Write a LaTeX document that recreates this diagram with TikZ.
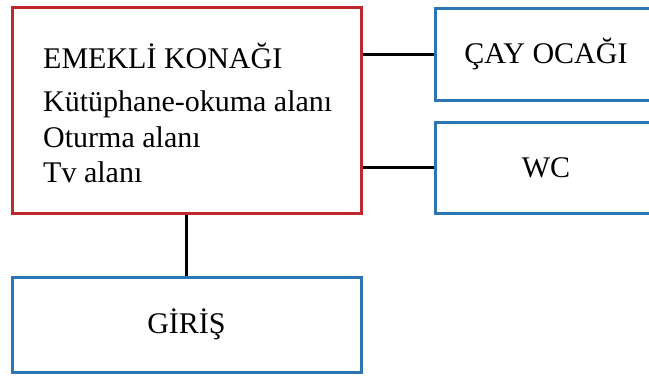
\documentclass[tikz,border=0pt]{standalone}
\usepackage{fontspec}
\setmainfont{Liberation Serif}
\definecolor{boxred}{RGB}{192,39,45}
\definecolor{boxblue}{RGB}{46,117,182}
\tikzset{
  redbox/.style={draw=boxred, line width=3pt, rectangle, inner sep=0pt},
  bluebox/.style={draw=boxblue, line width=3pt, rectangle, inner sep=0pt, font=\fontsize{30}{36}\selectfont},
  txt/.style={anchor=base west, inner sep=0pt, font=\fontsize{30}{36}\selectfont},
  link/.style={draw=black, line width=3pt}
}
\begin{document}
\begin{tikzpicture}[x=1pt,y=-1pt]
\useasboundingbox (0,0) rectangle (649,376);
\begin{scope}
\clip (0,0) rectangle (649,376);
\node[redbox, minimum width=349pt, minimum height=206pt] (konak) at (186.5,110) {};
\node[bluebox, minimum width=222pt, minimum height=92pt] (cay) at (546,54) {ÇAY OCAĞI};
\node[bluebox, minimum width=222pt, minimum height=91pt] (wc) at (546,167.5) {WC};
\node[bluebox, minimum width=349pt, minimum height=95pt] (giris) at (186.5,324.5) {GİRİŞ};
\node[txt] (t1) at (43,68) {EMEKLİ KONAĞI};
\node[txt] (t2) at (43,111) {Kütüphane-okuma alanı};
\node[txt] (t3) at (43,147) {Oturma alanı};
\node[txt] (t4) at (43,182) {Tv alanı};
\draw[link] (cay.west -| konak.east) -- (cay.west);
\draw[link] (wc.west -| konak.east) -- (wc.west);
\draw[link] (konak.south) -- (giris.north);
\end{scope}
\end{tikzpicture}
\end{document}
